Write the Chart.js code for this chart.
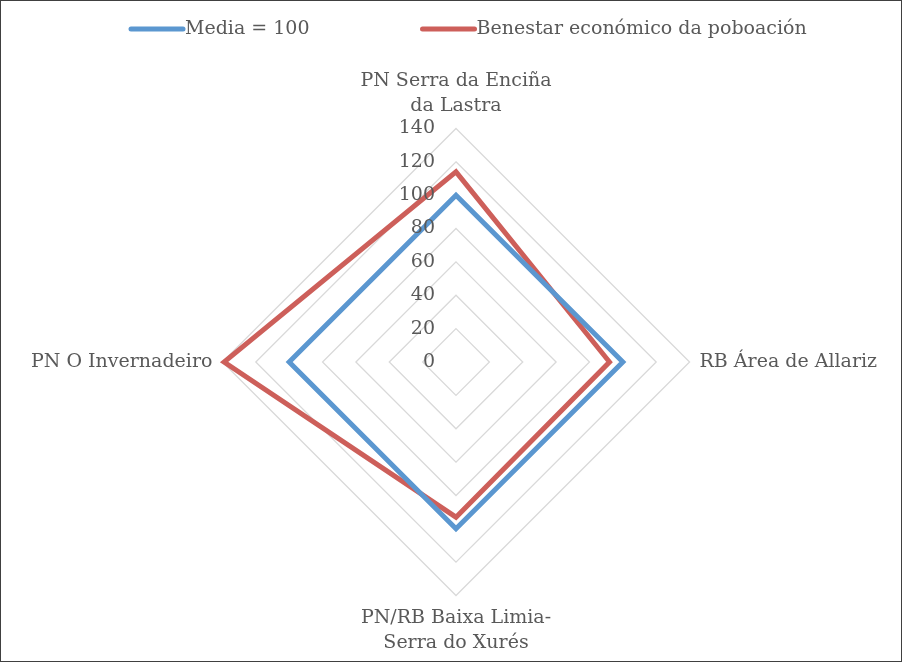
<!DOCTYPE html>
<html>
<head>
<meta charset="utf-8">
<script src="https://cdn.jsdelivr.net/npm/chart.js@4/dist/chart.umd.min.js"></script>
<style>
  html, body { margin: 0; padding: 0; background: #fff; }
  #wrap { width: 902px; height: 662px; box-sizing: border-box; border: 1px solid #404040; position: relative; }
  canvas { display: block; }
</style>
</head>
<body>
<div id="wrap"><canvas id="radarChart" width="900" height="660"></canvas></div>
<script>
// DATA
const categories = [
    ['PN Serra da Enciña', 'da Lastra'],
    'RB Área de Allariz',
    ['PN/RB Baixa Limia-', 'Serra do Xurés'],
    'PN O Invernadeiro'
];
const mediaValues = [100, 100, 100, 100];
const benestarValues = [114, 92, 93, 139];
const seriesNames = ['Media = 100', 'Benestar económico da poboación'];
const scaleMax = 140;
const scaleStep = 20;

const FONT = '"DejaVu Serif", serif';
const TEXT = '#595959';

// right-aligned tick labels beside the vertical axis
const tickLabels = {
    id: 'tickLabels',
    afterDatasetsDraw(chart) {
        const s = chart.scales.r;
        const c = chart.ctx;
        c.save();
        c.font = '19px ' + FONT;
        c.fillStyle = TEXT;
        c.textAlign = 'right';
        c.textBaseline = 'middle';
        s.ticks.forEach(t => {
            const d = s.getDistanceFromCenterForValue(t.value);
            c.fillText(t.label, s.xCenter - 21, s.yCenter - d);
        });
        c.restore();
    }
};

// legend with long line swatches, laid out like the original
const lineLegend = {
    id: 'lineLegend',
    afterDraw(chart) {
        const c = chart.ctx;
        c.save();
        c.font = '19px ' + FONT;
        c.textBaseline = 'middle';
        let x = 130;
        const y = 28;
        chart.data.datasets.forEach(ds => {
            c.strokeStyle = ds.borderColor;
            c.lineWidth = 5;
            c.lineCap = 'round';
            c.beginPath();
            c.moveTo(x, y);
            c.lineTo(x + 52, y);
            c.stroke();
            c.fillStyle = TEXT;
            c.fillText(ds.label, x + 54, y);
            x += 54 + c.measureText(ds.label).width + 113;
        });
        c.restore();
    }
};

const ctx = document.getElementById('radarChart').getContext('2d');
const radarChart = new Chart(ctx, {
    type: 'radar',
    data: {
        labels: categories,
        datasets: [{
            label: seriesNames[0],
            data: mediaValues,
            borderColor: '#5b97d0',
            backgroundColor: '#5b97d0',
            borderWidth: 5,
            borderJoinStyle: 'miter',
            fill: false,
            pointRadius: 0
        }, {
            label: seriesNames[1],
            data: benestarValues,
            borderColor: '#cd5f5a',
            backgroundColor: '#cd5f5a',
            borderWidth: 5,
            borderJoinStyle: 'miter',
            fill: false,
            pointRadius: 0
        }]
    },
    options: {
        responsive: false,
        animation: false,
        layout: { padding: { top: 63, left: 29, right: 21, bottom: 0 } },
        scales: {
            r: {
                min: 0,
                max: scaleMax,
                ticks: { stepSize: scaleStep, display: false },
                grid: { color: '#d9d9d9', lineWidth: 1.3 },
                angleLines: { display: false },
                pointLabels: {
                    color: TEXT,
                    padding: 10,
                    font: { family: FONT, size: 19, lineHeight: 1.3 }
                }
            }
        },
        plugins: {
            legend: { display: false },
            tooltip: { enabled: false }
        }
    },
    plugins: [tickLabels, lineLegend]
});
</script>
</body>
</html>
